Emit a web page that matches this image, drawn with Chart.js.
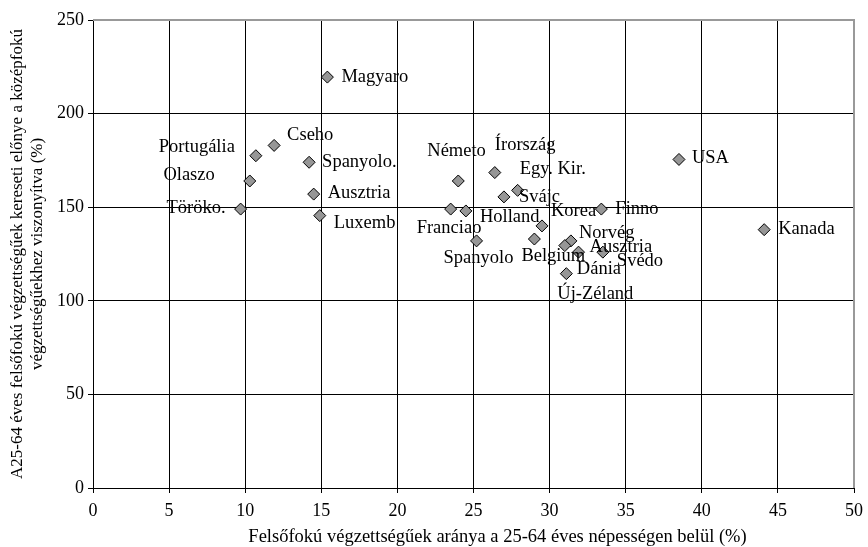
<!DOCTYPE html>
<html>
<head>
<meta charset="utf-8">
<script src="https://cdn.jsdelivr.net/npm/chart.js@4/dist/chart.umd.min.js"></script>
<style>
    html, body { margin: 0; padding: 0; background: #fff; }
    #wrap { width: 868px; height: 547px; }
</style>
</head>
<body>
<div id="wrap"><canvas id="chart"></canvas></div>
<script>
// Országok (címkék), ahogy a képen szerepelnek
const countries = ['Magyaro', 'Cseho', 'Portugália', 'Olaszo', 'Töröko.', 'Spanyolo.', 'Ausztria', 'Luxemb',
    'Németo', 'Írország', 'Egy. Kir.', 'Svájc', 'Franciao', 'Holland', 'Korea', 'Spanyolo', 'Belgium',
    'Finno', 'Norvég', 'Dánia', 'Ausztria', 'Svédo', 'Új-Zéland', 'USA', 'Kanada'];

// Felsőfokú végzettségűek aránya (%)
const tertiaryShare = [15.4, 11.9, 10.7, 10.3, 9.7, 14.2, 14.5, 14.9,
    24.0, 26.4, 27.9, 27.0, 23.5, 24.5, 29.5, 25.2, 29.0,
    33.4, 31.4, 31.0, 31.9, 33.5, 31.1, 38.5, 44.1];

// Kereseti előny (%)
const earningsPremium = [219.5, 183, 177.5, 164, 149, 174, 157, 145.5,
    164, 168.5, 159, 155.5, 149, 148, 140, 132, 133,
    149, 132, 129.5, 126, 126, 114.5, 175.5, 138];

const xTicks = [0, 5, 10, 15, 20, 25, 30, 35, 40, 45, 50];
const yTicks = [0, 50, 100, 150, 200, 250];

const xTitle = 'Felsőfokú végzettségűek aránya a 25-64 éves népességen belül (%)';
const yTitle = ['A25-64 éves felsőfokú végzettségűek kereseti előnye a középfokú',
    'végzettségűekhez viszonyítva (%)'];

// Címkék eltolása a pontokhoz képest: [dx, dy, igazítás]
const labelOffsets = [[14, 0, 'left'], [13, -10, 'left'], [-21, -9, 'right'], [-35, -6, 'right'],
    [-15, -1, 'right'], [13, 0, 'left'], [14, -1, 'left'], [14, 8, 'left'],
    [-31, -30, 'left'], [0, -27, 'left'], [2, -21, 'left'], [15, 0, 'left'], [-34, 19, 'left'],
    [14, 6, 'left'], [9, -15, 'left'], [-33, 17, 'left'], [-13, 17, 'left'],
    [14, 0, 'left'], [8, -8, 'left'], [12, 24, 'left'], [11, -5, 'left'], [14, 9, 'left'],
    [-9, 20, 'left'], [13, -1, 'left'], [14, -1, 'left']];

const serif = '"Liberation Serif", "Times New Roman", serif';

const pointLabels = {
    id: 'pointLabels',
    afterDatasetsDraw(chart) {
        const ctx = chart.ctx;
        const meta = chart.getDatasetMeta(0);
        ctx.save();
        ctx.font = '18.5px ' + serif;
        ctx.fillStyle = '#000';
        ctx.textBaseline = 'middle';
        meta.data.forEach(function(pt, i) {
            const off = labelOffsets[i];
            ctx.textAlign = off[2];
            ctx.fillText(countries[i], pt.x + off[0], pt.y + off[1]);
        });
        ctx.restore();
    }
};

// Keret (szürke felső és jobb oldal) és az x tengely címe, kicsit jobbra tolva
const frame = {
    id: 'frame',
    afterDraw(chart) {
        const a = chart.chartArea;
        const ctx = chart.ctx;
        ctx.save();
        ctx.strokeStyle = '#999';
        ctx.lineWidth = 2;
        ctx.beginPath();
        ctx.moveTo(a.left, a.top);
        ctx.lineTo(a.right, a.top);
        ctx.lineTo(a.right, a.bottom);
        ctx.stroke();

        ctx.font = '18.5px ' + serif;
        ctx.fillStyle = '#000';
        ctx.textAlign = 'center';
        ctx.textBaseline = 'middle';
        ctx.fillText(xTitle, (a.left + a.right) / 2 + 24, a.bottom + 49);
        ctx.restore();
    }
};

new Chart(document.getElementById('chart'), {
    type: 'scatter',
    data: {
        datasets: [{
            data: tertiaryShare.map((x, i) => ({ x: x, y: earningsPremium[i] })),
            pointStyle: 'rectRot',
            pointRadius: 6,
            pointBackgroundColor: '#969696',
            pointBorderColor: '#000',
            pointBorderWidth: 1
        }]
    },
    options: {
        responsive: true,
        maintainAspectRatio: false,
        animation: false,
        layout: { padding: { top: 20, right: 14, left: 0, bottom: 0 } },
        plugins: {
            legend: { display: false },
            tooltip: { enabled: false }
        },
        scales: {
            x: {
                type: 'linear',
                min: 0,
                max: 50,
                afterBuildTicks: function(scale) {
                    scale.ticks = xTicks.map(v => ({ value: v }));
                },
                afterFit: function(scale) {
                    scale.height = 59;
                    scale.paddingRight = 0;
                },
                grid: { color: '#000', lineWidth: 1, tickLength: 5 },
                border: { color: '#000', width: 1 },
                ticks: { color: '#000', font: { family: serif, size: 18 }, padding: 7, maxRotation: 0 }
            },
            y: {
                type: 'linear',
                min: 0,
                max: 250,
                afterBuildTicks: function(scale) {
                    scale.ticks = yTicks.map(v => ({ value: v }));
                },
                afterFit: function(scale) { scale.width = 93; },
                grid: { color: '#000', lineWidth: 1, tickLength: 5 },
                border: { color: '#000', width: 1 },
                ticks: { color: '#000', font: { family: serif, size: 18 }, padding: 4 },
                title: {
                    display: true,
                    text: yTitle,
                    color: '#000',
                    font: { family: serif, size: 17, lineHeight: 1.2 },
                    padding: { top: 7, bottom: 0 }
                }
            }
        }
    },
    plugins: [pointLabels, frame]
});
</script>
</body>
</html>
